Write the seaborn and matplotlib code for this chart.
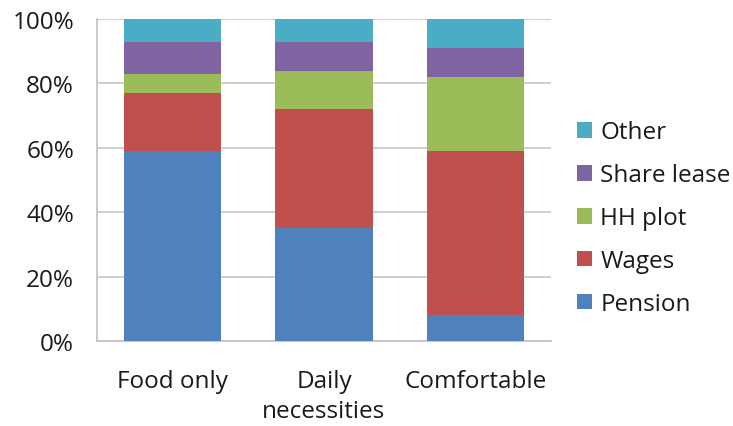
import matplotlib
matplotlib.use("Agg")
import matplotlib.pyplot as plt
import seaborn as sns
import numpy as np
import pandas as pd
from matplotlib.patches import Patch

# Share of household income by source, per living-standard group (%)
categories = ["Food only", "Daily\nnecessities", "Comfortable"]
pension = [59, 35, 8]
wages = [18, 37, 51]
hh_plot = [6, 12, 23]
share_lease = [10, 9, 9]
other = [7, 7, 9]

series_names = ["Pension", "Wages", "HH plot", "Share lease", "Other"]
series_values = [pension, wages, hh_plot, share_lease, other]
series_colors = ["#4F81BD", "#C0504D", "#9BBB59", "#8064A2", "#4BACC6"]

FS = 17.5

sns.set_theme(style="white")
plt.rcParams["font.family"] = ["Open Sans", "DejaVu Sans"]

fig = plt.figure(figsize=(7.33, 4.27), dpi=100)
ax = fig.add_axes([97 / 733, 1 - 342 / 427, (551 - 97) / 733, (342 - 20) / 427])

# Stacked bars: draw cumulative totals from the top series down so each
# lower segment covers the part of the bar beneath it.
cum = np.cumsum(np.array(series_values), axis=0)
for name, top, color in reversed(list(zip(series_names, cum, series_colors))):
    df = pd.DataFrame({"group": categories, "value": top})
    sns.barplot(data=df, x="group", y="value", color=color, width=0.645,
                saturation=1, ax=ax, zorder=3, linewidth=0)

ax.set_ylim(0, 100)
ax.set_xlim(-0.5, 2.5)
ax.set_yticks([0, 20, 40, 60, 80, 100])
ax.set_yticklabels([f"{v}%" for v in [0, 20, 40, 60, 80, 100]])
ax.set_xlabel("")
ax.set_ylabel("")

ax.yaxis.grid(True, color="#c8c8c8", linewidth=1.2, zorder=0)
ax.set_axisbelow(True)
for side in ["top", "right"]:
    ax.spines[side].set_visible(False)
for side in ["left", "bottom"]:
    ax.spines[side].set_color("#c0c0c0")
    ax.spines[side].set_linewidth(1.2)

ax.tick_params(axis="y", length=4, width=1.2, color="#c0c0c0", pad=12.5,
               labelsize=FS, labelcolor="#1a1a1a")
ax.tick_params(axis="x", length=0, pad=20, labelsize=FS, labelcolor="#1a1a1a")
for lab in ax.get_xticklabels():
    lab.set_linespacing(1.32)

handles = [Patch(facecolor=c, edgecolor="none", label=n)
           for n, c in zip(series_names, series_colors)][::-1]
fig.legend(handles=handles, loc="upper left", bbox_to_anchor=(570 / 733, 1 - 114 / 427),
           frameon=False, fontsize=FS, handlelength=0.62, handleheight=0.62,
           handletextpad=0.33, labelspacing=0.78, labelcolor="#1a1a1a",
           borderaxespad=0, borderpad=0.3)

fig.savefig("out.png", dpi=100)
